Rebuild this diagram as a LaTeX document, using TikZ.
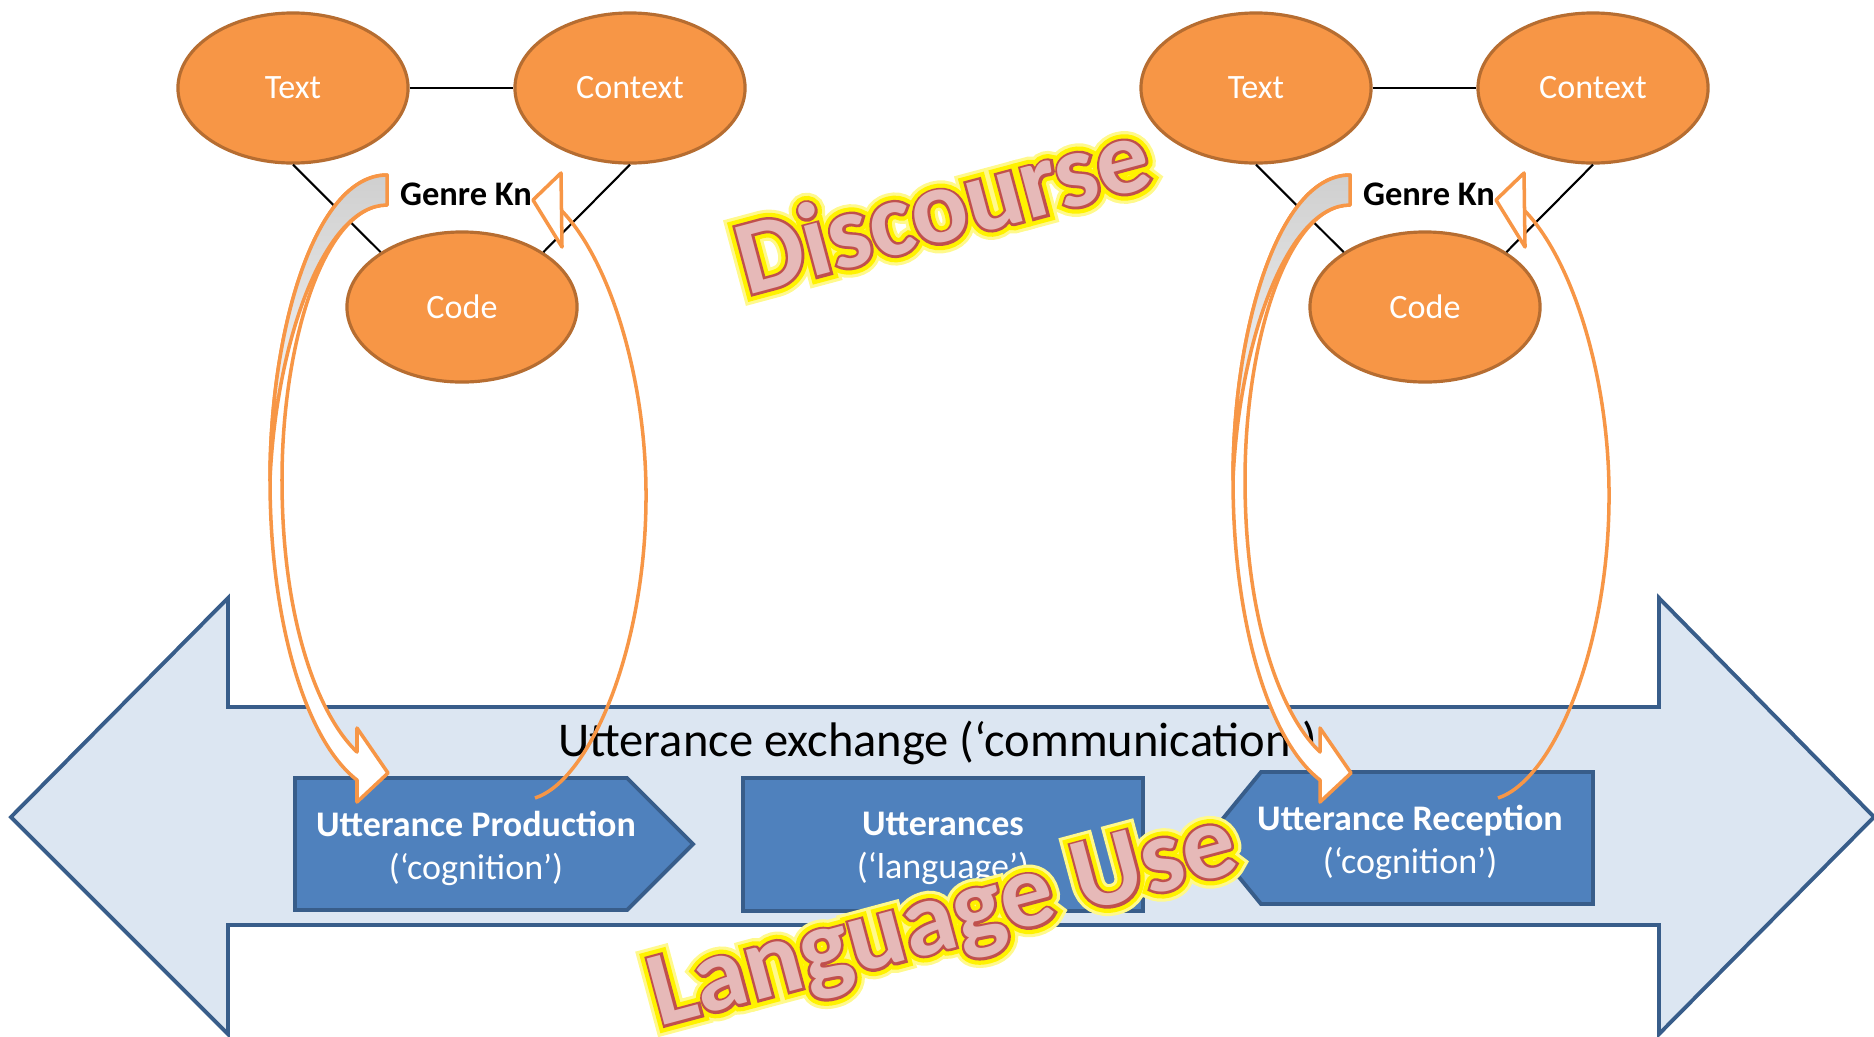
\documentclass[tikz,border=0pt]{standalone}
\usepackage{fontspec}
\setmainfont{Carlito}
\newfontfamily\glowwide[FakeBold=19]{Carlito Bold}
\newfontfamily\glownarrow[FakeBold=13]{Carlito Bold}
\newfontfamily\artrim[FakeBold=5]{Carlito Bold}
\newfontfamily\artface{Carlito Bold}
\usetikzlibrary{shapes.geometric}
\definecolor{ovalfill}{HTML}{F79646}
\definecolor{ovalline}{HTML}{B66D31}
\definecolor{boxfill}{HTML}{4F81BD}
\definecolor{boxline}{HTML}{385D8A}
\definecolor{bandfill}{HTML}{DCE6F2}
\definecolor{backgray}{HTML}{CFCFCF}
\definecolor{artfill}{HTML}{E6B9B8}
\definecolor{artline}{HTML}{C0504D}

\begin{document}
\begin{tikzpicture}[x=0.01cm,y=-0.01cm,
  oval/.style={ellipse,draw=ovalline,fill=ovalfill,line width=0.9pt,minimum width=2.3cm,minimum height=1.5cm,inner sep=0pt,text=white,font=\fontsize{9.7}{11}\selectfont},
  ubox/.style={draw=boxline,fill=boxfill,line width=1.1pt},
  ulabel/.style={text=white,align=center,inner sep=0pt,font=\fontsize{10.25}{12.2}\selectfont},
  loopline/.style={draw=ovalfill,line width=1pt,line join=round},
  wordart/.style={rotate=15,inner sep=0pt}]
\useasboundingbox (0,0) rectangle (1874,1036);
% exchange band
\draw[ubox,fill=bandfill] (11,817) -- (228,598) -- (228,707) -- (1659,707) -- (1659,598) -- (1874,817)
  -- (1659,1034) -- (1659,925) -- (228,925) -- (228,1034) -- cycle;
\node[inner sep=0pt,font=\fontsize{13.8}{16}\selectfont] (exchange) at (938,743) {Utterance exchange (‘communication’)};
% boxes
\draw[ubox] (295,778) -- (627,778) -- (693,844) -- (627,910) -- (295,910) -- cycle;
\node[ulabel] (production) at (476,848) {\textbf{Utterance Production}\\(‘cognition’)};
\draw[ubox] (743,778) rectangle (1143,911);
\node[ulabel] (utterances) at (943,848) {\textbf{Utterances}\\(‘language’)};
\draw[ubox] (1207,838) -- (1261,772) -- (1593,772) -- (1593,904) -- (1261,904) -- cycle;
\node[ulabel] (reception) at (1410,842) {\textbf{Utterance Reception}\\(‘cognition’)};
% the two triangles with their loops
\foreach \dx/\s in {0/l,963/r}{
  \node[oval] (text\s) at (293+\dx,88) {Text};
  \node[oval] (context\s) at (630+\dx,88) {Context};
  \node[oval] (code\s) at (462+\dx,307) {Code};
  \draw[line width=0.6pt] (text\s) -- (context\s);
  \draw[line width=0.6pt] (text\s.south) -- (code\s.146);
  \draw[line width=0.6pt] (context\s.south) -- (code\s.34);
  \node[inner sep=0pt,font=\bfseries\fontsize{9.8}{12}\selectfont] (genre\s) at (466+\dx,194) {Genre Kn};
  \begin{scope}[shift={(\dx,0)}]
    \draw[loopline,fill=white] (387,175) .. controls (315,175) and (270,330) .. (270,480)
      .. controls (270,620) and (305,740) .. (357,780) -- (357,802) -- (388,773) -- (357,728) -- (357,752)
      .. controls (318,715) and (282,620) .. (282,480) .. controls (282,340) and (325,205) .. (387,205) -- cycle;
    \draw[loopline,top color=backgray,middle color=backgray,bottom color=white] (387,175) .. controls (315,175) and (270,330) .. (270,480)
      .. controls (276,340) and (325,205) .. (387,205) -- cycle;
    \draw[loopline] (535,798) .. controls (590,780) and (645,650) .. (646,500) .. controls (647,380) and (610,260) .. (561,210);
    \draw[loopline,fill=white] (561,173) -- (533,200) -- (562,247) -- cycle;
  \end{scope}
}
% word art
\node[wordart,text=yellow!45,font=\glowwide\fontsize{30}{30}\selectfont] (discglow) at (942,205) {Discourse};
\node[wordart,text=yellow,font=\glownarrow\fontsize{30}{30}\selectfont] (discglow2) at (942,205) {Discourse};
\node[wordart,text=artline,font=\artrim\fontsize{30}{30}\selectfont] (discrim) at (942,205) {Discourse};
\node[wordart,text=artfill,font=\artface\fontsize{30}{30}\selectfont] (discourse) at (942,205) {Discourse};
\node[wordart,text=yellow!45,font=\glowwide\fontsize{30}{30}\selectfont] (useglow) at (944,924) {Language Use};
\node[wordart,text=yellow,font=\glownarrow\fontsize{30}{30}\selectfont] (useglow2) at (944,924) {Language Use};
\node[wordart,text=artline,font=\artrim\fontsize{30}{30}\selectfont] (userim) at (944,924) {Language Use};
\node[wordart,text=artfill,font=\artface\fontsize{30}{30}\selectfont] (languageuse) at (944,924) {Language Use};
\end{tikzpicture}
\end{document}
